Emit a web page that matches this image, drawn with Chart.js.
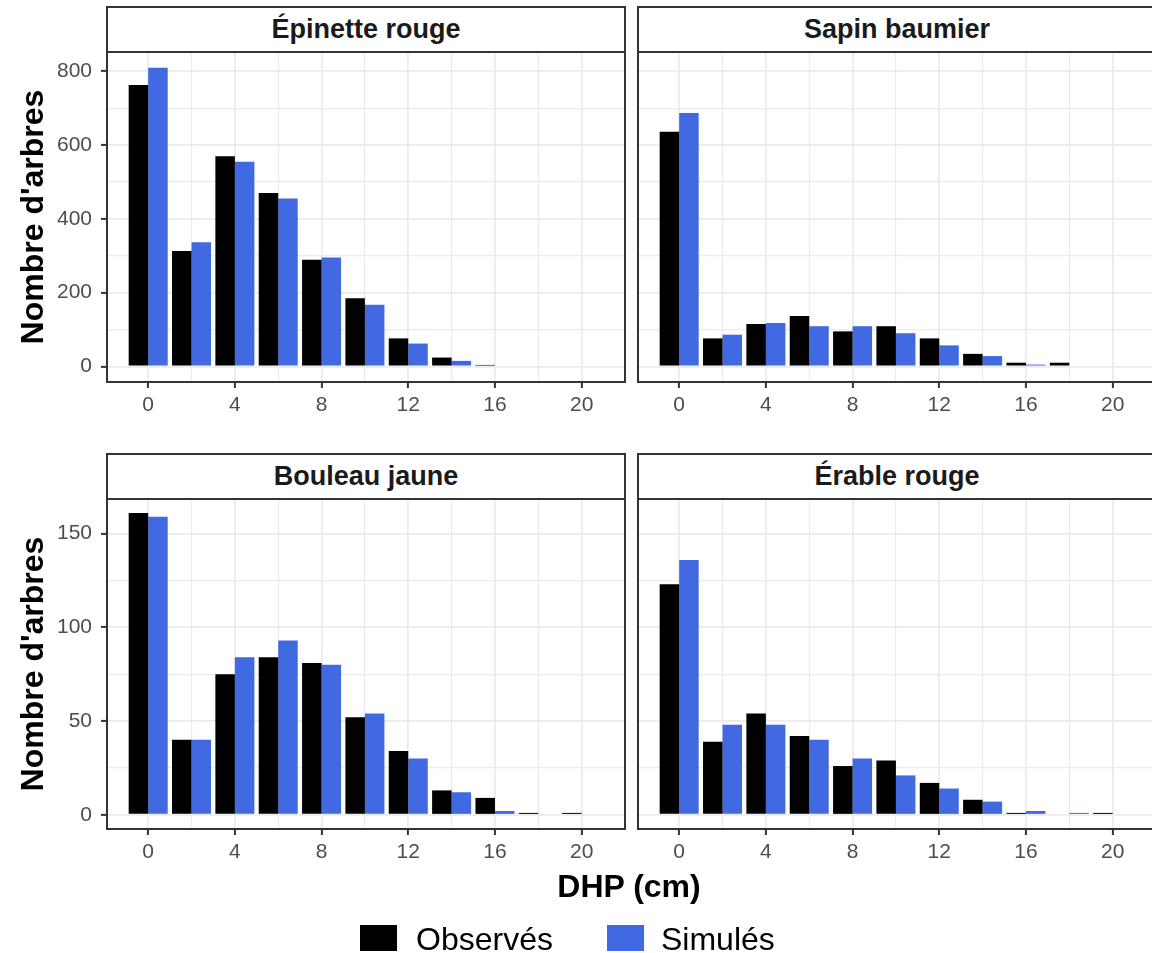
<!DOCTYPE html>
<html>
<head>
<meta charset="utf-8">
<script src="https://cdn.jsdelivr.net/npm/chart.js@4.4.1/dist/chart.umd.min.js"></script>
<style>
  body { margin: 0; width: 1152px; height: 953px; overflow: hidden; background: #fff; position: relative;
         font-family: "Liberation Sans", Arial, sans-serif; }
  canvas { position: absolute; }
  .strip { position: absolute; box-sizing: border-box; border: 2px solid #333; background: #fff;
           text-align: center; font-weight: bold; font-size: 27px; line-height: 43px; color: #1a1a1a; height: 47px; width: 520px; }
  .txt { position: absolute; white-space: nowrap; }
  .key { position: absolute; width: 37px; height: 26px; }
</style>
</head>
<body>
<canvas id="chartEpinette" width="635" height="395" style="left:0;top:27px"></canvas>
<canvas id="chartSapin" width="538" height="395" style="left:628px;top:27px"></canvas>
<canvas id="chartBouleau" width="635" height="395" style="left:0;top:474px"></canvas>
<canvas id="chartErable" width="538" height="395" style="left:628px;top:474px"></canvas>

<div class="strip" id="strip0" style="left:106px;top:6px"></div>
<div class="strip" id="strip1" style="left:637px;top:6px"></div>
<div class="strip" id="strip2" style="left:106px;top:453px"></div>
<div class="strip" id="strip3" style="left:637px;top:453px"></div>

<div class="txt" id="xTitle" style="left:429px;width:400px;top:870px;text-align:center;font-weight:bold;font-size:32px;line-height:32px;color:#000"></div>

<div class="key" style="left:360px;top:925px;background:#000000"></div>
<div class="txt" id="legObs" style="left:416px;top:923px;font-size:32px;line-height:32px;color:#000"></div>
<div class="key" style="left:607px;top:925px;background:#4169E1"></div>
<div class="txt" id="legSim" style="left:661px;top:923px;font-size:32px;line-height:32px;color:#000"></div>

<script>
// DHP classes (cm) and counts
const dhpClasses = [0, 2, 4, 6, 8, 10, 12, 14, 16, 18, 20];
const speciesNames = ['Épinette rouge', 'Sapin baumier', 'Bouleau jaune', 'Érable rouge'];
const seriesNames = ['Observés', 'Simulés'];

const epinetteObs = [763, 313, 570, 470, 289, 185, 76, 24, 4, 0, 0];
const epinetteSim = [810, 337, 555, 455, 295, 167, 62, 15, 0, 0, 0];
const sapinObs = [636, 76, 115, 137, 95, 109, 76, 34, 10, 10, 0];
const sapinSim = [687, 86, 118, 109, 109, 90, 57, 28, 5, 0, 0];
const bouleauObs = [161, 40, 75, 84, 81, 52, 34, 13, 9, 1, 1];
const bouleauSim = [159, 40, 84, 93, 80, 54, 30, 12, 2, 0, 0];
const erableObs = [123, 39, 54, 42, 26, 29, 17, 8, 1, 0, 1];
const erableSim = [136, 48, 48, 40, 30, 21, 14, 7, 2, 1, 0];

const xMajor = [0, 4, 8, 12, 16, 20];
const xMinor = [2, 6, 10, 14, 18];
const yMajorTop = [0, 200, 400, 600, 800];
const yMinorTop = [100, 300, 500, 700];
const yMajorBottom = [0, 50, 100, 150];
const yMinorBottom = [25, 75, 125];

const yLabel = "Nombre d'arbres";
const xLabel = 'DHP (cm)';

const obsColor = '#000000';
const simColor = '#4169E1';
const gridColor = '#EBEBEB';
const tickLabelColor = '#4D4D4D';

document.getElementById('xTitle').textContent = xLabel;
document.getElementById('legObs').textContent = seriesNames[0];
document.getElementById('legSim').textContent = seriesNames[1];
speciesNames.forEach((name, i) => {
  document.getElementById('strip' + i).textContent = name;
});

const panelBorder = {
  id: 'panelBorder',
  afterDraw(chart) {
    const { ctx, chartArea: a } = chart;
    ctx.save();
    ctx.strokeStyle = '#333333';
    ctx.lineWidth = 2;
    ctx.strokeRect(a.left, a.top, a.right - a.left, a.bottom - a.top);
    ctx.restore();
  }
};

function sortedTicks(major, minor) {
  return [...major, ...minor].sort((a, b) => a - b).map(v => ({ value: v }));
}

function makePanel(canvasId, obs, sim, yMajor, yMinor, yMin, yMax, showY) {
  const ctx = document.getElementById(canvasId).getContext('2d');
  return new Chart(ctx, {
    type: 'bar',
    data: {
      datasets: [
        {
          label: seriesNames[0],
          data: dhpClasses.map((x, i) => ({ x: x, y: obs[i] })),
          backgroundColor: obsColor,
          borderWidth: 0,
          categoryPercentage: 0.9,
          barPercentage: 1
        },
        {
          label: seriesNames[1],
          data: dhpClasses.map((x, i) => ({ x: x, y: sim[i] })),
          backgroundColor: simColor,
          borderWidth: 0,
          categoryPercentage: 0.9,
          barPercentage: 1
        }
      ]
    },
    options: {
      responsive: false,
      animation: false,
      devicePixelRatio: 1,
      layout: { padding: { top: 25, right: 10, left: 0, bottom: 0 } },
      plugins: {
        legend: { display: false },
        tooltip: { enabled: false },
        title: { display: false }
      },
      scales: {
        x: {
          type: 'linear',
          min: -1.9,
          max: 22,
          offset: false,
          afterBuildTicks: s => { s.ticks = sortedTicks(xMajor, xMinor); },
          afterFit: s => { s.height = 40; },
          ticks: {
            autoSkip: false,
            maxRotation: 0,
            padding: 5,
            color: tickLabelColor,
            font: { family: '"Liberation Sans", Arial, sans-serif', size: 21 },
            callback: v => xMajor.includes(v) ? String(v) : ''
          },
          grid: {
            offset: false,
            color: gridColor,
            lineWidth: c => (c.tick && xMajor.includes(c.tick.value)) ? 1.8 : 1.2,
            tickLength: 6,
            tickWidth: 2,
            tickColor: c => (c.tick && xMajor.includes(c.tick.value)) ? '#333333' : 'rgba(0,0,0,0)'
          },
          border: { display: false }
        },
        y: {
          min: yMin,
          max: yMax,
          afterBuildTicks: s => { s.ticks = sortedTicks(yMajor, yMinor); },
          afterFit: s => { s.width = showY ? 107 : 10; },
          ticks: {
            display: showY,
            padding: 9,
            color: tickLabelColor,
            font: { family: '"Liberation Sans", Arial, sans-serif', size: 21 },
            callback: v => yMajor.includes(v) ? String(v) : ''
          },
          grid: {
            color: gridColor,
            lineWidth: c => (c.tick && yMajor.includes(c.tick.value)) ? 1.8 : 1.2,
            drawTicks: showY,
            tickLength: 6,
            tickWidth: 2,
            tickColor: c => (c.tick && yMajor.includes(c.tick.value)) ? '#333333' : 'rgba(0,0,0,0)'
          },
          border: { display: false },
          title: {
            display: showY,
            text: yLabel,
            color: '#000000',
            font: { family: '"Liberation Sans", Arial, sans-serif', size: 32, weight: 'bold' },
            padding: { top: 15, bottom: 0 }
          }
        }
      }
    },
    plugins: [panelBorder]
  });
}

makePanel('chartEpinette', epinetteObs, epinetteSim, yMajorTop, yMinorTop, -42.3, 852.6, true);
makePanel('chartSapin', sapinObs, sapinSim, yMajorTop, yMinorTop, -42.3, 852.6, false);
makePanel('chartBouleau', bouleauObs, bouleauSim, yMajorBottom, yMinorBottom, -7.6, 168.5, true);
makePanel('chartErable', erableObs, erableSim, yMajorBottom, yMinorBottom, -7.6, 168.5, false);
</script>
</body>
</html>
